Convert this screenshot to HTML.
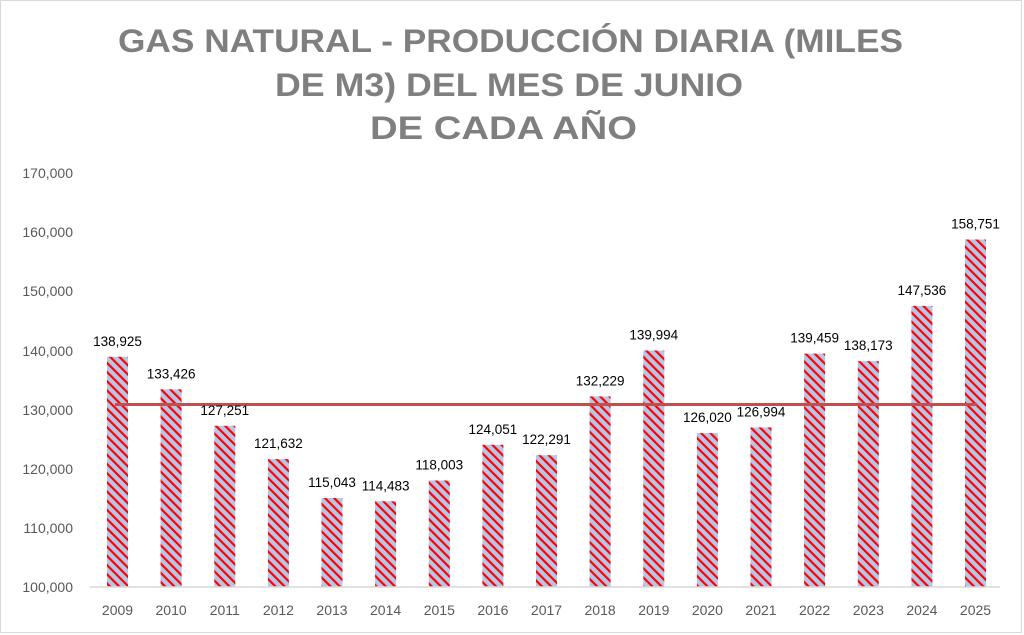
<!DOCTYPE html>
<html><head><meta charset="utf-8"><style>
html,body{margin:0;padding:0;background:#fff;}
svg{display:block;font-family:"Liberation Sans",sans-serif;}
</style></head><body>
<svg width="1024" height="635" viewBox="0 0 1024 635" xmlns="http://www.w3.org/2000/svg">
<defs>
<pattern id="st" patternUnits="userSpaceOnUse" width="6.5" height="6.5" patternTransform="rotate(-45)">
<rect width="6.5" height="6.5" fill="#b4c7e7"/>
<rect x="0" y="0" width="2.2" height="6.5" fill="#ff0000"/>
</pattern>
</defs>
<rect x="0.5" y="0.5" width="1021" height="632" fill="#fff" stroke="#d9d9d9"/>
<g fill="#7f7f7f" font-weight="bold" font-size="32">
<text x="118" y="52" textLength="785" lengthAdjust="spacingAndGlyphs">GAS NATURAL - PRODUCCIÓN DIARIA (MILES</text>
<text x="275" y="96" textLength="468" lengthAdjust="spacingAndGlyphs">DE M3) DEL MES DE JUNIO</text>
<text x="370" y="139" textLength="267" lengthAdjust="spacingAndGlyphs">DE CADA AÑO</text>
</g>
<g fill="#595959" font-size="14" text-anchor="end">
<text x="73" y="592">100,000</text>
<text x="73" y="533">110,000</text>
<text x="73" y="474">120,000</text>
<text x="73" y="415">130,000</text>
<text x="73" y="356">140,000</text>
<text x="73" y="296">150,000</text>
<text x="73" y="237">160,000</text>
<text x="73" y="178">170,000</text>
</g>
<g fill="url(#st)">
<rect x="107" y="356.8" width="21" height="230.2"/>
<rect x="160.6" y="389.3" width="21" height="197.7"/>
<rect x="214.3" y="425.8" width="21" height="161.2"/>
<rect x="267.9" y="459.1" width="21" height="127.9"/>
<rect x="321.5" y="498" width="21" height="89"/>
<rect x="375.1" y="501.3" width="21" height="85.7"/>
<rect x="428.8" y="480.5" width="21" height="106.5"/>
<rect x="482.4" y="444.8" width="21" height="142.2"/>
<rect x="536" y="455.2" width="21" height="131.8"/>
<rect x="589.6" y="396.4" width="21" height="190.6"/>
<rect x="643.3" y="350.5" width="21" height="236.5"/>
<rect x="696.9" y="433.1" width="21" height="153.9"/>
<rect x="750.5" y="427.4" width="21" height="159.6"/>
<rect x="804.1" y="353.6" width="21" height="233.4"/>
<rect x="857.8" y="361.2" width="21" height="225.8"/>
<rect x="911.4" y="305.9" width="21" height="281.1"/>
<rect x="965" y="239.5" width="21" height="347.5"/>
</g>
<line x1="90" y1="587" x2="1000" y2="587" stroke="#d9d9d9" stroke-width="1.5"/>
<line x1="115" y1="404.5" x2="977" y2="404.5" stroke="#c0504d" stroke-width="3"/>
<g fill="#000" font-size="13.5" text-anchor="middle">
<text x="117.5" y="345.8">138,925</text>
<text x="171.1" y="378.3">133,426</text>
<text x="224.8" y="414.8">127,251</text>
<text x="278.4" y="448.1">121,632</text>
<text x="332" y="487">115,043</text>
<text x="385.6" y="490.3">114,483</text>
<text x="439.3" y="469.5">118,003</text>
<text x="492.9" y="433.8">124,051</text>
<text x="546.5" y="444.2">122,291</text>
<text x="600.1" y="385.4">132,229</text>
<text x="653.8" y="339.5">139,994</text>
<text x="707.4" y="422.1">126,020</text>
<text x="761" y="416.4">126,994</text>
<text x="814.6" y="342.6">139,459</text>
<text x="868.3" y="350.2">138,173</text>
<text x="921.9" y="294.9">147,536</text>
<text x="975.5" y="228.5">158,751</text>
</g>
<g fill="#595959" font-size="14" text-anchor="middle">
<text x="117.5" y="615">2009</text>
<text x="171.1" y="615">2010</text>
<text x="224.8" y="615">2011</text>
<text x="278.4" y="615">2012</text>
<text x="332" y="615">2013</text>
<text x="385.6" y="615">2014</text>
<text x="439.3" y="615">2015</text>
<text x="492.9" y="615">2016</text>
<text x="546.5" y="615">2017</text>
<text x="600.1" y="615">2018</text>
<text x="653.8" y="615">2019</text>
<text x="707.4" y="615">2020</text>
<text x="761" y="615">2021</text>
<text x="814.6" y="615">2022</text>
<text x="868.3" y="615">2023</text>
<text x="921.9" y="615">2024</text>
<text x="975.5" y="615">2025</text>
</g>
</svg>
</body></html>
